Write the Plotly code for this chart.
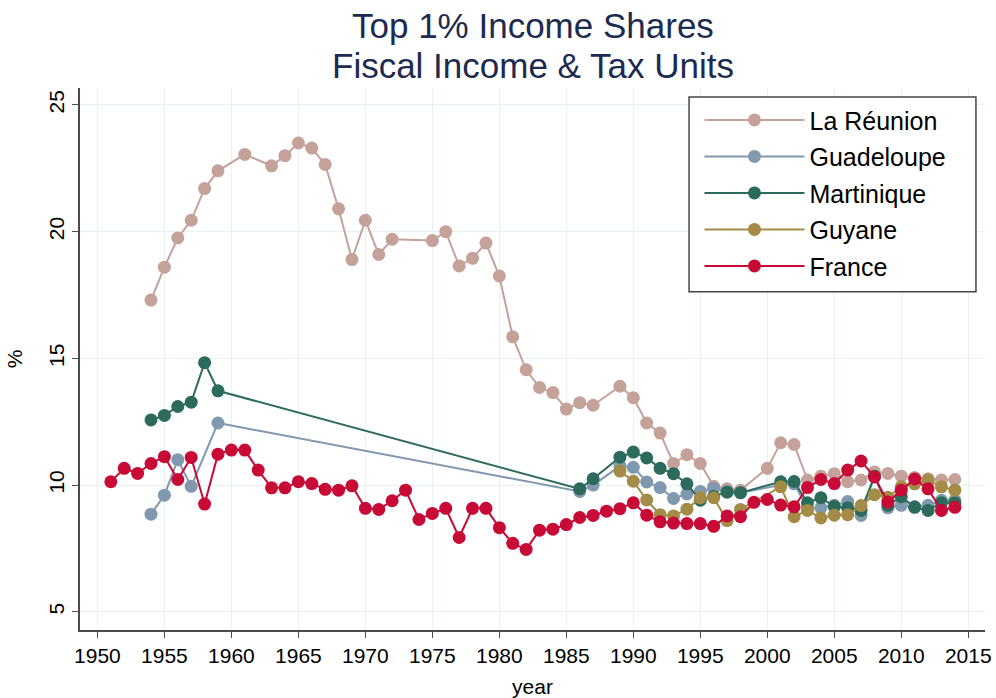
import plotly.graph_objects as go

# ---------------- data ----------------
reunion_years = [1954, 1955, 1956, 1957, 1958, 1959, 1961, 1963, 1964, 1965, 1966, 1967, 1968, 1969,
                 1970, 1971, 1972, 1975, 1976, 1977, 1978, 1979, 1980, 1981, 1982, 1983, 1984, 1985,
                 1986, 1987, 1989, 1990, 1991, 1992, 1993, 1994, 1995, 1996, 1997, 1998, 2000, 2001,
                 2002, 2003, 2004, 2005, 2006, 2007, 2008, 2009, 2010, 2011, 2012, 2013, 2014]
reunion_vals = [17.3, 18.6, 19.75, 20.45, 21.7, 22.4, 23.05, 22.6, 23.0, 23.5, 23.3, 22.65, 20.9, 18.9,
                20.45, 19.1, 19.7, 19.65, 20.0, 18.65, 18.95, 19.55, 18.25, 15.85, 14.55, 13.85, 13.65, 13.0,
                13.25, 13.15, 13.9, 13.45, 12.45, 12.05, 10.85, 11.2, 10.85, 9.95, 9.85, 9.8, 10.66, 11.67,
                11.6, 10.2, 10.35, 10.45, 10.13, 10.2, 10.52, 10.46, 10.35, 10.3, 10.25, 10.2, 10.22]

guadeloupe_years = [1954, 1955, 1956, 1957, 1959, 1986, 1987, 1989, 1990, 1991, 1992, 1993, 1994, 1995,
                    1996, 1997, 1998, 2001, 2002, 2003, 2004, 2005, 2006, 2007, 2008, 2009, 2010, 2011,
                    2012, 2013, 2014]
guadeloupe_vals = [8.85, 9.6, 11.0, 9.95, 12.45, 9.75, 10.0, 10.75, 10.7, 10.12, 9.9, 9.47, 9.65, 9.75,
                   9.87, 9.76, 9.7, 10.0, 10.05, 9.1, 9.1, 9.2, 9.35, 8.8, 10.35, 9.1, 9.2, 9.15,
                   9.2, 9.4, 9.4]

martinique_years = [1954, 1955, 1956, 1957, 1958, 1959, 1986, 1987, 1989, 1990, 1991, 1992, 1993, 1994,
                    1995, 1996, 1997, 1998, 2001, 2002, 2003, 2004, 2005, 2006, 2007, 2008, 2009, 2010,
                    2011, 2012, 2013, 2014]
martinique_vals = [12.57, 12.75, 13.1, 13.27, 14.83, 13.72, 9.85, 10.25, 11.1, 11.3, 11.07, 10.66, 10.45, 10.05,
                   9.4, 9.55, 9.72, 9.7, 10.13, 10.14, 9.3, 9.5, 9.15, 9.1, 9.0, 10.35, 9.2, 9.54,
                   9.12, 9.0, 9.3, 9.3]

guyane_years = [1989, 1990, 1991, 1992, 1993, 1994, 1995, 1996, 1997, 1998, 2001, 2002, 2003, 2004,
                2005, 2006, 2007, 2008, 2009, 2010, 2011, 2012, 2013, 2014]
guyane_vals = [10.55, 10.15, 9.41, 8.83, 8.78, 9.05, 9.5, 9.5, 8.6, 9.04, 9.93, 8.75, 9.0, 8.7,
               8.81, 8.83, 9.19, 9.62, 9.52, 9.93, 10.05, 10.2, 9.93, 9.8]

france_years = list(range(1951, 2015))
france_vals = [10.13, 10.66, 10.46, 10.85, 11.12, 10.22, 11.09, 9.25, 11.22, 11.38,
               11.38, 10.59, 9.89, 9.89, 10.13, 10.06, 9.83, 9.8, 9.97, 9.08,
               9.04, 9.38, 9.8, 8.64, 8.88, 9.08, 7.93, 9.08, 9.08, 8.32,
               7.7, 7.46, 8.22, 8.26, 8.44, 8.72, 8.8, 8.97, 9.07, 9.3,
               8.81, 8.55, 8.5, 8.48, 8.48, 8.37, 8.78, 8.75, 9.32, 9.43,
               9.21, 9.14, 9.9, 10.22, 10.06, 10.59, 10.95, 10.32, 9.33, 9.8,
               10.24, 9.85, 9.0, 9.12]

x_ticks = list(range(1950, 2016, 5))
y_ticks = [5, 10, 15, 20, 25]

title_line1 = "Top 1% Income Shares"
title_line2 = "Fiscal Income & Tax Units"

series = [
    ("La Réunion", reunion_years, reunion_vals, "#c4a29a"),
    ("Guadeloupe", guadeloupe_years, guadeloupe_vals, "#8199ae"),
    ("Martinique", martinique_years, martinique_vals, "#2c6b5c"),
    ("Guyane", guyane_years, guyane_vals, "#a48c46"),
    ("France", france_years, france_vals, "#c80a36"),
]

FONT = "Liberation Sans, Arial, Helvetica, sans-serif"

fig = go.Figure()
for name, xs, ys, col in series:
    fig.add_trace(go.Scatter(
        x=xs, y=ys, name=name, mode="lines+markers",
        line=dict(color=col, width=2),
        marker=dict(color=col, size=13, line=dict(width=0)),
        legendgroup=name,
    ))

axis_col = "#4a4a4a"
grid_col = "#e9f1f3"
title_col = "#1d2b50"

fig.update_layout(
    width=996, height=698,
    margin=dict(l=80, r=11, t=88, b=68, autoexpand=False),
    paper_bgcolor="white", plot_bgcolor="white",
    font=dict(family=FONT, color="black", size=21),
    showlegend=True,
    legend=dict(
        x=0.6845, xanchor="left", y=0.983, yanchor="top",
        bgcolor="rgba(0,0,0,0)", borderwidth=0,
        font=dict(family=FONT, size=25, color="black"),
        traceorder="grouped", tracegroupgap=1,
        itemwidth=100,
    ),
    xaxis=dict(
        range=[1948.7, 2016.25], tickmode="array", tickvals=x_ticks,
        showgrid=True, gridcolor=grid_col, gridwidth=1,
        showline=True, linecolor=axis_col, linewidth=1.5, mirror=False,
        ticks="outside", ticklen=6, tickcolor=axis_col, tickwidth=1.2,
        zeroline=False, automargin=False,
        tickfont=dict(family=FONT, size=21, color="black"),
        title=dict(text="year", font=dict(family=FONT, size=21, color="black"), standoff=15),
    ),
    yaxis=dict(
        range=[4.28, 25.67], tickmode="array", tickvals=y_ticks,
        showgrid=True, gridcolor=grid_col, gridwidth=1,
        showline=True, linecolor=axis_col, linewidth=1.5, mirror=False,
        ticks="outside", ticklen=6, tickcolor=axis_col, tickwidth=1.2,
        zeroline=False, tickangle=-90, automargin=False,
        tickfont=dict(family=FONT, size=21, color="black"),
        title=dict(text="%", font=dict(family=FONT, size=21, color="black"), standoff=16),
    ),
    annotations=[
        dict(text=title_line1, xref="paper", yref="paper", x=0.5, y=1.1144,
             xanchor="center", yanchor="middle", showarrow=False,
             font=dict(family=FONT, size=35, color=title_col)),
        dict(text=title_line2, xref="paper", yref="paper", x=0.5, y=1.0406,
             xanchor="center", yanchor="middle", showarrow=False,
             font=dict(family=FONT, size=35, color=title_col)),
    ],
    shapes=[
        # legend frame
        dict(type="rect", xref="paper", yref="paper",
             x0=0.673, x1=0.990, y0=0.6242, y1=0.9834,
             line=dict(color="#444444", width=1.5), fillcolor="white", layer="above"),
    ],
)

# remove the default 8px page margin so the figure fills the window exactly
fig.write_html("out.html", config={"displayModeBar": False},
               post_script="document.body.style.margin='0px';")
